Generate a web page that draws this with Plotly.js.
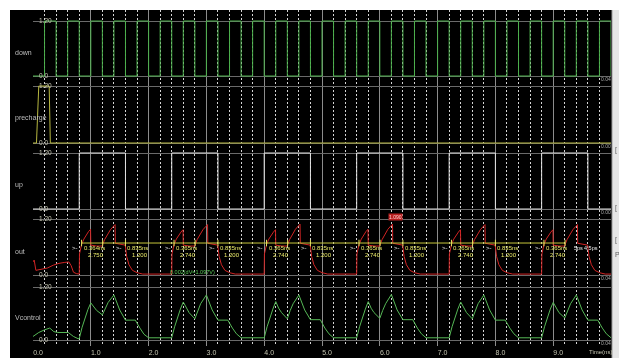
<!DOCTYPE html>
<html>
<head>
<meta charset="utf-8">
<script src="https://cdn.plot.ly/plotly-3.0.1.min.js"></script>
<style>html,body{margin:0;padding:0;background:#fff;}#plot{width:619px;height:358px;}#plot svg{will-change:transform;}</style>
</head>
<body>
<div id="plot"></div>
<script>
// ---------------- data ----------------
var signalNames = ["down", "precharge", "up", "out", "Vcontrol"];
var timeTicks = [0,1,2,3,4,5,6,7,8,9];
var timeTickText = ["0.0","1.0","2.0","3.0","4.0","5.0","6.0","7.0","8.0","9.0"];
var levelTicks = [0, 1.2];
var levelTickText = ["0.0", "1.20"];
var rightValues = ["0.04", "0.00", "0.00", "0.04", "0.04"];

var down_t = [0.0,0.2,0.4,0.6,0.8,1.0,1.2,1.4,1.6,1.8,2.0,2.2,2.4,2.6,2.8,3.0,3.2,3.4,3.6,3.8,4.0,4.2,4.4,4.6,4.8,5.0,5.2,5.4,5.6,5.8,6.0,6.2,6.4,6.6,6.8,7.0,7.2,7.4,7.6,7.8,8.0,8.2,8.4,8.6,8.8,9.0,9.2,9.4,9.6,9.8,10.0];
var down_v = [0,1.2,0,1.2,0,1.2,0,1.2,0,1.2,0,1.2,0,1.2,0,1.2,0,1.2,0,1.2,0,1.2,0,1.2,0,1.2,0,1.2,0,1.2,0,1.2,0,1.2,0,1.2,0,1.2,0,1.2,0,1.2,0,1.2,0,1.2,0,1.2,0,1.2,0];

var precharge_t = [0.0, 0.06, 0.10, 0.28, 0.30, 10.0];
var precharge_v = [0.0, 0.0, 1.2, 1.2, 0.0, 0.0];

var up_t = [0.0, 0.8, 1.6, 2.4, 3.2, 4.0, 4.8, 5.6, 6.4, 7.2, 8.0, 8.8, 9.6, 10.0];
var up_v = [0, 1.2, 0, 1.2, 0, 1.2, 0, 1.2, 0, 1.2, 0, 1.2, 0, 0];

var out_t = [
 0.00,0.02,0.05,0.15,0.25,0.35,0.45,0.55,0.62,0.66,0.70,0.75,
 0.800,0.804,0.840,0.880,0.920,0.960,0.996,1.000,1.100,1.196,1.240,1.290,1.340,1.390,1.420,1.424,1.500,1.596,1.620,1.660,1.720,1.800,1.900,
 2.400,2.404,2.440,2.480,2.520,2.560,2.596,2.600,2.700,2.796,2.840,2.890,2.940,2.990,3.020,3.024,3.100,3.196,3.220,3.260,3.320,3.400,3.500,
 4.000,4.004,4.040,4.080,4.120,4.160,4.196,4.200,4.300,4.396,4.440,4.490,4.540,4.590,4.620,4.624,4.700,4.796,4.820,4.860,4.920,5.000,5.100,
 5.600,5.604,5.640,5.680,5.720,5.760,5.796,5.800,5.900,5.996,6.040,6.090,6.140,6.190,6.220,6.224,6.300,6.396,6.420,6.460,6.520,6.600,6.700,
 7.200,7.204,7.240,7.280,7.320,7.360,7.396,7.400,7.500,7.596,7.640,7.690,7.740,7.790,7.820,7.824,7.900,7.996,8.020,8.060,8.120,8.200,8.300,
 8.800,8.804,8.840,8.880,8.920,8.960,8.996,9.000,9.100,9.196,9.240,9.290,9.340,9.390,9.420,9.424,9.500,9.596,9.620,9.660,9.720,9.800,9.900,10.0];
var out_v = [
 0.28,0.32,0.10,0.12,0.15,0.21,0.25,0.27,0.28,0.20,0.06,0.03,
 0.02,0.45,0.65,0.77,0.86,0.93,0.98,0.64,0.62,0.62,0.76,0.88,0.97,1.04,1.08,0.68,0.66,0.64,0.40,0.22,0.10,0.05,0.02,
 0.02,0.45,0.65,0.77,0.86,0.92,0.97,0.64,0.62,0.62,0.76,0.88,0.97,1.04,1.08,0.68,0.66,0.64,0.40,0.22,0.10,0.05,0.02,
 0.02,0.45,0.65,0.77,0.86,0.92,0.97,0.64,0.62,0.62,0.76,0.88,0.98,1.05,1.09,0.68,0.66,0.64,0.40,0.22,0.10,0.05,0.02,
 0.02,0.45,0.65,0.77,0.86,0.93,0.98,0.64,0.62,0.62,0.76,0.88,0.98,1.05,1.09,0.68,0.66,0.64,0.40,0.22,0.10,0.05,0.02,
 0.02,0.45,0.65,0.77,0.86,0.92,0.97,0.64,0.62,0.62,0.76,0.88,0.97,1.04,1.08,0.68,0.66,0.64,0.40,0.22,0.10,0.05,0.02,
 0.02,0.45,0.65,0.77,0.86,0.92,0.97,0.64,0.62,0.62,0.76,0.88,0.97,1.04,1.08,0.68,0.66,0.64,0.40,0.22,0.10,0.05,0.02,0.02];

var vc_t = [
 0.00,0.10,0.20,0.29,0.36,0.43,0.61,0.70,0.78,
 0.80,0.85,0.90,0.95,1.00,1.05,1.10,1.20,1.25,1.30,1.40,1.45,1.50,1.60,1.77,1.85,1.92,2.00,
 2.40,2.45,2.50,2.55,2.60,2.65,2.70,2.80,2.85,2.90,3.00,3.05,3.10,3.20,3.37,3.45,3.52,3.60,
 4.00,4.05,4.10,4.15,4.20,4.25,4.30,4.40,4.45,4.50,4.60,4.65,4.70,4.80,4.97,5.05,5.12,5.20,
 5.60,5.65,5.70,5.75,5.80,5.85,5.90,6.00,6.05,6.10,6.20,6.25,6.30,6.40,6.57,6.65,6.72,6.80,
 7.20,7.25,7.30,7.35,7.40,7.45,7.50,7.60,7.65,7.70,7.80,7.85,7.90,8.00,8.17,8.25,8.32,8.40,
 8.80,8.85,8.90,8.95,9.00,9.05,9.10,9.20,9.25,9.30,9.40,9.45,9.50,9.60,9.77,9.85,9.92,10.0];
var vc_v = [
 0.08,0.17,0.23,0.27,0.19,0.17,0.17,0.08,0.03,
 0.03,0.29,0.51,0.69,0.84,0.74,0.67,0.57,0.72,0.85,1.02,0.83,0.68,0.45,0.45,0.27,0.13,0.05,
 0.05,0.30,0.52,0.70,0.86,0.72,0.62,0.48,0.67,0.82,1.02,0.83,0.68,0.45,0.45,0.27,0.14,0.05,
 0.05,0.30,0.52,0.70,0.87,0.72,0.62,0.48,0.67,0.82,1.02,0.83,0.68,0.46,0.46,0.27,0.14,0.05,
 0.05,0.30,0.52,0.70,0.87,0.72,0.62,0.49,0.67,0.82,1.03,0.83,0.68,0.46,0.46,0.27,0.14,0.05,
 0.05,0.30,0.52,0.70,0.86,0.72,0.62,0.48,0.67,0.82,1.02,0.83,0.68,0.45,0.45,0.27,0.14,0.05,
 0.05,0.30,0.52,0.70,0.85,0.72,0.62,0.50,0.67,0.82,1.02,0.83,0.68,0.45,0.45,0.27,0.14,0.05];

// measurement markers on "out" (threshold crossings) and their readouts
var measCross = [0.84,1.205,1.60, 2.44,2.805,3.20, 4.04,4.405,4.80, 5.64,6.005,6.40, 7.24,7.605,8.00, 8.84,9.205];
var measLabelT = [0.84,1.60,2.44,3.20,4.04,4.80,5.64,6.40,7.24,8.00,8.84];
var measPeriod = ["0.364ns","0.835ns","0.365ns","0.835ns","0.365ns","0.835ns","0.365ns","0.835ns","0.365ns","0.835ns","0.365ns"];
var measFreq = ["2.750","1.200","2.740","1.200","2.740","1.200","2.740","1.200","2.740","1.200","2.740"];
var measLevel = 0.685;
var extraMeasT = [9.33, 9.50];
var extraMeasText = ["5ps", "4.5ps"];
var deltaText = "0.002(dV=1.097V)"; var deltaT = 2.33; var deltaV = 0.07;
var peakText = "1.090"; var peakT = 6.28; var peakV = 1.24;

// ---------------- layout geometry ----------------
var W = 619, H = 358, L = 33, R = 8, T = 10, B = 12;
var PW = W - L - R, PH = H - T - B;
function fx(px){ return (px - L) / PW; }
function fy(py){ return (H - B - py) / PH; }
// pixel rows of the 1.20 and 0.0 levels of each panel
var panelRows = [[21,76],[86,143],[153,209],[219,275],[287,340]];
var colors = ["#4cb04c", "#b8b840", "#e2e2e2", "#d22424", "#56b856"];
var FONT = "Liberation Sans, Arial, sans-serif";
var labelColor = "#c4c4b0";

var layout = {
  width: W, height: H,
  margin: {l: L, r: R, t: T, b: B, pad: 0},
  paper_bgcolor: "#000000",
  plot_bgcolor: "rgba(0,0,0,0)",
  showlegend: false,
  font: {family: FONT, size: 7, color: labelColor},
  xaxis: {
    domain: [0,1], range: [0,10], anchor: "y",
    tickmode: "array", tickvals: timeTicks, ticktext: timeTickText,
    ticks: "", ticklabelshift: 5, ticklabelstandoff: 1,
    tickfont: {family: FONT, size: 7, color: labelColor},
    showgrid: true, gridcolor: "#8c8c8c", gridwidth: 1,
    minor: {tickmode: "linear", tick0: 0, dtick: 0.2, showgrid: true, gridcolor: "#d4d4d4", griddash: "2px,2px", gridwidth: 1, ticks: ""},
    zeroline: false, showline: false, fixedrange: true
  },
  yaxis: {domain: [0,1], range: [0,1], anchor: "x", visible: false, showgrid: false, zeroline: false, fixedrange: true},
  annotations: [], shapes: []
};

var traces = [{x: [], y: [], xaxis: "x", yaxis: "y", mode: "lines", hoverinfo: "skip"}];
var series = [[down_t, down_v, "hv"], [precharge_t, precharge_v, "linear"], [up_t, up_v, "hv"], [out_t, out_v, "linear"], [vc_t, vc_v, "linear"]];

for (var i = 0; i < 5; i++) {
  var n = i + 2;
  var p12 = panelRows[i][0], p0 = panelRows[i][1];
  var s = (p0 - p12) / 1.2, pad = 4;
  layout["xaxis" + n] = {matches: "x", anchor: "y" + n, domain: [0,1], visible: false, showgrid: false, zeroline: false, fixedrange: true};
  layout["yaxis" + n] = {
    domain: [fy(p0 + pad), fy(p12 - pad)], range: [-pad / s, 1.2 + pad / s], anchor: "x" + n,
    tickmode: "array", tickvals: levelTicks, ticktext: levelTickText,
    ticks: "", ticklabelposition: "inside", ticklabelstandoff: 3,
    tickfont: {family: FONT, size: 6.5, color: labelColor},
    showgrid: true, gridcolor: "#6a6a6a", gridwidth: 1, zeroline: false, showline: false, fixedrange: true
  };
  traces.push({x: series[i][0], y: series[i][1], xaxis: "x" + n, yaxis: "y" + n, mode: "lines",
    line: {color: colors[i], width: 1, shape: series[i][2]}, hoverinfo: "skip"});
  // signal name
  layout.annotations.push({xref: "paper", yref: "paper", x: fx(13), y: fy((p12 + p0) / 2 + 4), xanchor: "left", yanchor: "middle",
    text: signalNames[i], showarrow: false, font: {family: FONT, size: 7, color: "#bdbdbd"}});
  // cursor value on the right
  layout.annotations.push({xref: "paper", yref: "paper", x: fx(599), y: fy(p0 + 3), xanchor: "left", yanchor: "middle",
    text: rightValues[i], showarrow: false, font: {family: FONT, size: 5, color: "#a8a8a8"}});
}

// measurement line and ticks on "out" (axis x5/y5)
layout.shapes.push({type: "line", xref: "x5", yref: "y5", x0: measCross[0], x1: measCross[measCross.length - 1], y0: measLevel, y1: measLevel,
  line: {color: "#c8c83a", width: 1}, layer: "above"});
measCross.forEach(function(t){
  layout.shapes.push({type: "line", xref: "x5", yref: "y5", x0: t, x1: t, y0: measLevel - 0.07, y1: measLevel + 0.07,
    line: {color: "#e0e060", width: 1}, layer: "above"});
});
measLabelT.forEach(function(t, k){
  layout.annotations.push({xref: "x5", yref: "y5", x: t, y: 0.57, xanchor: "left", yanchor: "middle", text: measPeriod[k],
    showarrow: false, font: {family: FONT, size: 6, color: "#e8e868"}});
  layout.annotations.push({xref: "x5", yref: "y5", x: t + 0.07, y: 0.42, xanchor: "left", yanchor: "middle", text: measFreq[k],
    showarrow: false, font: {family: FONT, size: 6, color: "#e8e868"}});
  layout.annotations.push({xref: "x5", yref: "y5", x: t - 0.02, y: 0.57, xanchor: "right", yanchor: "middle", text: "&gt;-",
    showarrow: false, font: {family: FONT, size: 6, color: "#e8e8e8"}});
});
extraMeasT.forEach(function(t, k){
  layout.annotations.push({xref: "x5", yref: "y5", x: t, y: 0.57, xanchor: "left", yanchor: "middle", text: extraMeasText[k],
    showarrow: false, font: {family: FONT, size: 5.5, color: "#e8e8e8"}});
});
layout.annotations.push({xref: "x5", yref: "y5", x: deltaT, y: deltaV, xanchor: "left", yanchor: "middle", text: deltaText,
  showarrow: false, font: {family: FONT, size: 5.5, color: "#58c858"}});
layout.annotations.push({xref: "x5", yref: "y5", x: peakT, y: peakV, xanchor: "center", yanchor: "middle", text: peakText,
  showarrow: false, bgcolor: "#b82020", borderpad: 0, font: {family: FONT, size: 5, color: "#ffd0d0"}});
// time axis unit
layout.annotations.push({xref: "paper", yref: "paper", x: fx(600), y: fy(352), xanchor: "center", yanchor: "middle",
  text: "Time(ns)", showarrow: false, font: {family: FONT, size: 6, color: labelColor}});

// window frame (white border top/left, light strip right)
layout.shapes.push({type: "rect", xref: "paper", yref: "paper", x0: fx(-2), x1: fx(W + 2), y0: fy(10), y1: fy(-2), fillcolor: "#ffffff", line: {width: 0}, layer: "above"});
layout.shapes.push({type: "rect", xref: "paper", yref: "paper", x0: fx(-2), x1: fx(10), y0: fy(H + 2), y1: fy(-2), fillcolor: "#ffffff", line: {width: 0}, layer: "above"});
layout.shapes.push({type: "rect", xref: "paper", yref: "paper", x0: fx(612), x1: fx(W + 2), y0: fy(H + 2), y1: fy(10), fillcolor: "#e6e6e6", line: {width: 0}, layer: "above"});
layout.shapes.push({type: "line", xref: "paper", yref: "paper", x0: fx(612), x1: fx(612), y0: fy(H), y1: fy(10), line: {color: "#9a9a9a", width: 1}, layer: "above"});
[[150,"["],[208,"["],[240,"["],[254,"P"]].forEach(function(m){
  layout.annotations.push({xref: "paper", yref: "paper", x: fx(613), y: fy(m[0]), xanchor: "left", yanchor: "middle", text: m[1],
    showarrow: false, font: {family: FONT, size: 7, color: "#606060"}});
});

Plotly.newPlot("plot", traces, layout, {staticPlot: true, displayModeBar: false});
</script>
</body>
</html>
